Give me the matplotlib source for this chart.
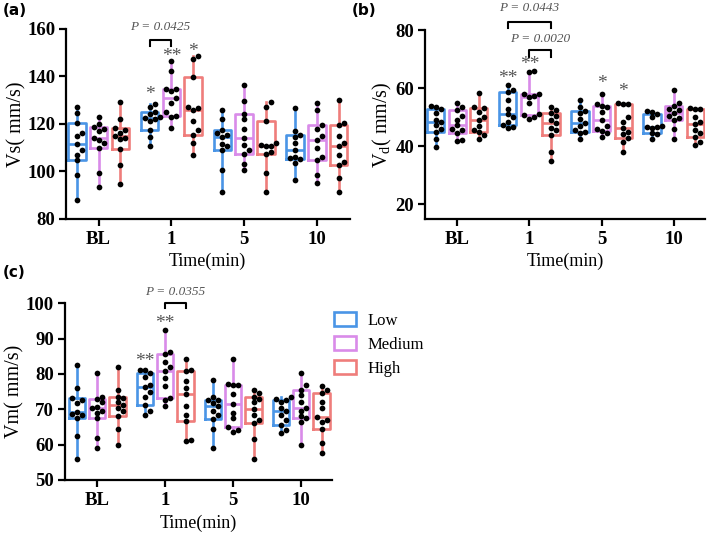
import matplotlib.pyplot as plt
import numpy as np
from matplotlib.patches import Patch

plt.rcParams["font.family"] = ["Liberation Serif", "DejaVu Serif"]
plt.rcParams["font.weight"] = "bold"
plt.rcParams["mathtext.fontset"] = "custom"
plt.rcParams["mathtext.rm"] = "Liberation Serif:bold"
plt.rcParams["mathtext.bf"] = "Liberation Serif:bold"

times = ["BL", "1", "5", "10"]
groups = ["Low", "Medium", "High"]
colors = ["#4a95e6", "#d98be9", "#ef7d7b"]

# ---- Vs (mm/s): one list per time point (BL, 1, 5, 10) ----
vs_low = [
    [88, 98.6, 104.6, 107, 109.1, 111.6, 114.7, 116.1, 120.4, 124.7, 127.1],
    [110.5, 114.4, 117.2, 121, 122, 122.5, 123, 124, 124.8, 127.1, 128.5],
    [91.5, 100.7, 109.1, 110.5, 111.5, 114.3, 115.5, 116, 117.2, 122, 126],
    [96.4, 103.5, 105.2, 105.5, 106, 108.8, 111.9, 114.5, 115.4, 116.8, 126.7],
]
vs_med = [
    [93.4, 99.5, 109.8, 111.9, 113, 114, 116.8, 118, 118.5, 120.1, 122.9],
    [118.2, 123, 123.1, 125, 128.8, 130.9, 134, 134.5, 134.7, 142.1, 146.6],
    [100.7, 103, 107.2, 109, 111, 114, 118, 122, 124.2, 129.5, 136.5],
    [95, 98.6, 104.9, 106, 109.8, 113.3, 115, 118, 119.6, 125.7, 128.8],
]
vs_high = [
    [94.8, 102.8, 109.4, 113.6, 114, 114.7, 116.1, 117.2, 118.2, 122, 129],
    [107, 112, 115.4, 117.5, 121, 126, 126.5, 127, 139.8, 147.5, 148.5],
    [91.5, 99.3, 107.2, 108, 110.5, 110.8, 111.2, 112, 121.4, 127.1, 129],
    [91.5, 97.2, 102.7, 104, 107, 110.8, 112, 114.7, 119.6, 120.5, 130.2],
]

# ---- Vd (mm/s) ----
vd_low = [
    [39.8, 42.7, 45.0, 46, 47.3, 48.5, 49.1, 51.4, 52.8, 53.5, 53.8],
    [46.2, 46.8, 47.3, 48.5, 50, 51.2, 53, 56, 58.9, 59.5, 61.2],
    [42.7, 44.5, 45.0, 45.8, 47, 47.9, 49.5, 51.6, 52.3, 53.5, 56],
    [42.7, 44.2, 44.5, 46.5, 46.8, 46.8, 47, 50, 51.2, 52, 52.3],
]
vd_med = [
    [42, 42.2, 44.5, 45.6, 46, 47.3, 49.1, 50.5, 52.5, 53.5, 55.1],
    [49.6, 50.2, 50.8, 51.2, 55, 57.2, 57.5, 58, 58.1, 65.8, 66],
    [43.3, 44.5, 45.4, 46, 47, 49, 52, 53.5, 53.9, 54.5, 58.1],
    [42.7, 46, 49.1, 49.8, 50.5, 51.5, 52.5, 53, 53.9, 55, 59.5],
]
vd_high = [
    [42.4, 44, 45.0, 45.6, 47, 49.1, 50, 52, 53.1, 53.5, 58.3],
    [35, 38.1, 43.9, 45.5, 46.5, 48, 49.1, 50.5, 51.6, 52.5, 53.5],
    [38.1, 41.5, 43, 44.2, 45, 46.5, 48.5, 50, 54.5, 54.8, 55],
    [40.4, 41.5, 43.3, 44.5, 45.5, 47.7, 48.5, 50, 52.8, 53, 53.2],
]

# ---- Vm (mm/s) ----
vm_low = [
    [56, 62.3, 67.5, 68.4, 68.8, 69.1, 71.7, 72.5, 73.1, 76, 82.6],
    [68.4, 69.6, 71.2, 73.6, 75, 76.4, 77, 79, 80.2, 81, 81.1],
    [59, 64.5, 67.2, 68.5, 69.5, 70.8, 71.7, 72.5, 72.7, 73.5, 78.3],
    [63.2, 64, 65.6, 67, 68.5, 69.4, 70.5, 72, 72.7, 73, 73.4],
]
vm_med = [
    [59, 61.8, 67.5, 69, 69.5, 70.3, 70.6, 72, 72.8, 73.6, 80.2],
    [70.8, 72.5, 73.1, 76.5, 78.8, 80.7, 82, 83.5, 85.7, 86.3, 92.5],
    [63.7, 64.2, 65.1, 67.5, 69, 71.5, 74.3, 76.8, 76.9, 77.1, 84.2],
    [59.9, 66.5, 67.5, 68, 69.5, 70.3, 72, 74, 75.5, 76.9, 80.2],
]
vm_high = [
    [59.9, 64.4, 68.1, 69.5, 70.5, 71.2, 72, 73.2, 73.6, 75.5, 81.9],
    [61, 61.2, 66.7, 68.5, 71, 74.4, 76, 78, 80.7, 81.1, 84.2],
    [55.9, 61.5, 66, 67, 68.5, 70, 72, 73, 73.6, 74.5, 75.5],
    [57.6, 60.4, 64.4, 66.5, 67, 67.8, 70.5, 72, 74.7, 75.5, 76.6],
]

OFFSETS = [-0.3, 0.0, 0.3]
BOX_W = 0.24


def swarm(vals, ypx, xpx, size=5.0):
    """Beeswarm-like horizontal offsets (category units) so dots don't overlap."""
    placed = []
    offs = np.zeros(len(vals))
    cands = [0.0] + [s * j for j in range(1, 8) for s in (1, -1)]
    for i in np.argsort(vals):
        y = vals[i] * ypx
        for c in cands:
            x = c * size
            if all((x - px) ** 2 + (y - py) ** 2 >= size ** 2 for px, py in placed):
                break
        placed.append((x, y))
        offs[i] = x / xpx
    return offs


def draw_panel(ax, series, ylim, yticks, ypx, xpx, xlim):
    for g, data in enumerate(series):
        for t, vals in enumerate(data):
            vals = np.asarray(vals, dtype=float)
            pos = t + OFFSETS[g]
            q1, med, q3 = np.percentile(vals, [25, 50, 75], method="weibull")
            stats = [dict(med=med, q1=q1, q3=q3, whislo=vals.min(),
                          whishi=vals.max(), fliers=[])]
            lp = dict(color=colors[g], lw=1.9)
            ax.bxp(stats, positions=[pos], widths=BOX_W, showcaps=False,
                   boxprops=lp, whiskerprops=lp, medianprops=lp,
                   manage_ticks=False)
            xs = pos + swarm(vals, ypx, xpx)
            ax.scatter(xs, vals, s=17, color="black", zorder=4, linewidths=0)
    ax.set_xlim(*xlim)
    ax.set_ylim(*ylim)
    ax.set_yticks(yticks)
    ax.set_xticks(range(len(times)))
    ax.set_xticklabels(times)
    for s in ("top", "right"):
        ax.spines[s].set_visible(False)
    for s in ("left", "bottom"):
        ax.spines[s].set_linewidth(1.6)
    ax.tick_params(width=1.6, length=5, labelsize=13.5)
    ax.tick_params(axis="y", pad=2.5)
    ax.set_xlabel("Time(min)", fontsize=13, labelpad=4)


def bracket(ax, x0, x1, y, tip, label=None, ty=None):
    ax.plot([x0, x0, x1, x1], [y - tip, y, y, y - tip], color="black",
            lw=1.5, clip_on=False)
    if label:
        ax.text((x0 + x1) / 2, ty, label, ha="center", va="center",
                fontsize=9.5, style="italic", weight="normal", color="#555555")


def stars(ax, x, y, s):
    ax.text(x, y, s, ha="center", va="center", fontsize=14, weight="normal",
            color="#555555", clip_on=False)


fig = plt.figure(figsize=(7.09, 5.35), dpi=100)

# (a) Vs
ax_a = fig.add_axes([0.093, 0.591, 0.400, 0.355])
draw_panel(ax_a, [vs_low, vs_med, vs_high], (80, 160), [80, 100, 120, 140, 160],
           2.375, 73, (-0.45, 3.45))
ax_a.set_ylabel("Vs( mm/s)", fontsize=14.5, labelpad=1)
bracket(ax_a, 0.7, 1.0, 155.2, 2.5, "P = 0.0425", 160.6)
stars(ax_a, 0.7, 132.3, "*")
stars(ax_a, 1.0, 148.5, "**")
stars(ax_a, 1.3, 150.6, "*")

# (b) Vd
ax_b = fig.add_axes([0.599, 0.591, 0.396, 0.352])
draw_panel(ax_b, [vd_low, vd_med, vd_high], (15, 80), [20, 40, 60, 80],
           2.89, 72, (-0.45, 3.44))
ax_b.set_ylabel(r"V$_\mathregular{d}$( mm/s)", fontsize=14.5, labelpad=1)
bracket(ax_b, 0.7, 1.3, 83.1, 2.3, "P = 0.0443", 87.6)
bracket(ax_b, 1.0, 1.3, 73.1, 2.1, "P = 0.0020", 77.2)
stars(ax_b, 0.7, 63.5, "**")
stars(ax_b, 1.0, 68.1, "**")
stars(ax_b, 2.0, 61.8, "*")
stars(ax_b, 2.3, 59.0, "*")

# (c) Vm
ax_c = fig.add_axes([0.091, 0.103, 0.377, 0.330])
draw_panel(ax_c, [vm_low, vm_med, vm_high], (50, 100), [50, 60, 70, 80, 90, 100],
           3.53, 68, (-0.48, 3.45))
ax_c.set_ylabel("Vm( mm/s)", fontsize=14.5, labelpad=1)
bracket(ax_c, 1.0, 1.3, 100.0, 1.4, "P = 0.0355", 103.1)
stars(ax_c, 0.7, 83.6, "**")
stars(ax_c, 1.0, 94.4, "**")

# legend
handles = [Patch(facecolor="white", edgecolor=c, lw=1.9) for c in colors]
fig.legend(handles, groups, loc="upper left", bbox_to_anchor=(0.45, 0.445),
           frameon=False, prop=dict(family="Liberation Serif", weight="normal", size=12),
           handlelength=1.3, handleheight=0.9, labelspacing=0.45, handletextpad=0.7)

# panel letters
for x, y, lab in [(0.004, 0.995, "(a)"), (0.496, 0.995, "(b)"), (0.004, 0.505, "(c)")]:
    fig.text(x, y, lab, fontsize=11, weight="bold", family="DejaVu Sans", va="top")

fig.savefig("out.png", dpi=100)
